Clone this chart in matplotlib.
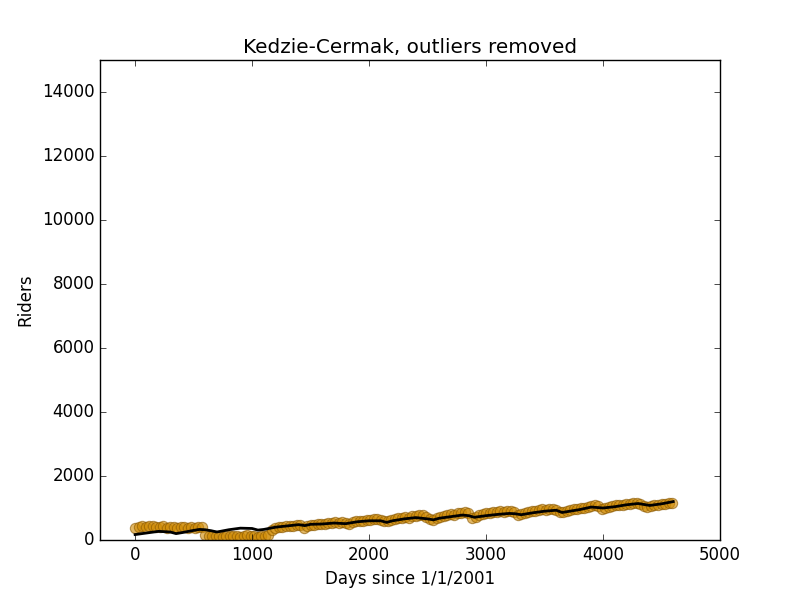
import matplotlib
matplotlib.use("Agg")
import matplotlib.pyplot as plt

plt.style.use("classic")

riders = [
    # days 0..570
    360, 410, 430, 420, 440, 425, 400, 415, 430, 380, 410, 395, 370, 400, 420, 390, 410, 385, 400, 410,
    # days 600..1140
    160, 140, 120, 110, 130, 100, 120, 140, 110, 125, 105, 130, 150, 115, 120, 100, 135, 140, 160,
    # days 1170..4590
    300, 380, 400, 420, 430, 450, 440, 460, 470, 380,
    450, 470, 480, 500, 490, 510, 520, 530, 550, 520,
    560, 540, 500, 560, 580, 600, 590, 620, 640, 660,
    650, 620, 600, 580, 620, 660, 690, 700, 720, 690,
    740, 760, 780, 770, 720, 650, 640, 690, 720, 760,
    780, 800, 790, 830, 850, 870, 840, 700, 720, 790,
    810, 830, 850, 860, 880, 900, 880, 910, 920, 890,
    780, 820, 850, 880, 900, 920, 940, 960, 950, 970,
    960, 940, 860, 880, 900, 940, 960, 970, 990, 1000,
    1030, 1060, 1080, 1050, 980, 1000, 1040, 1060, 1080, 1090,
    1100, 1110, 1140, 1150, 1160, 1130, 1050, 1020, 1060, 1080,
    1090, 1110, 1130, 1150, 1170,
]
days = list(range(0, 30 * len(riders), 30))

# Smoothed trend line
trend_days = [0, 100, 200, 300, 350, 400, 500, 550, 600, 650, 700, 800, 900, 1000,
              1050, 1100, 1200, 1300, 1400, 1450, 1500, 1600, 1700, 1800, 1850, 1900,
              2000, 2100, 2150, 2200, 2300, 2400, 2500, 2550, 2600, 2700, 2800, 2850,
              2900, 3000, 3100, 3200, 3250, 3300, 3400, 3500, 3600, 3650, 3700, 3800,
              3900, 4000, 4100, 4200, 4300, 4350, 4400, 4500, 4600]
trend_vals = [170, 220, 270, 250, 200, 230, 300, 330, 320, 290, 250, 320, 370, 360,
              310, 330, 400, 440, 480, 450, 490, 500, 530, 510, 540, 570,
              600, 600, 550, 600, 660, 700, 660, 630, 680, 730, 780, 760,
              710, 760, 800, 830, 820, 790, 850, 900, 930, 860, 890, 950,
              1030, 1000, 1040, 1100, 1140, 1110, 1080, 1130, 1200]

fig = plt.figure(figsize=(8, 6), dpi=100)
ax = fig.add_axes([0.125, 0.1, 0.775, 0.8])
ax.scatter(days, riders, s=55, color="#d08a00", alpha=0.6, edgecolors="#8a5800", linewidths=0.8)
ax.plot(trend_days, trend_vals, color="black", linewidth=2)

ax.set_xlim(-300, 5000)
ax.set_ylim(0, 15000)
ax.set_xticks([0, 1000, 2000, 3000, 4000, 5000])
ax.set_yticks([0, 2000, 4000, 6000, 8000, 10000, 12000, 14000])
ax.set_xlabel("Days since 1/1/2001")
ax.set_ylabel("Riders")
ax.set_title("Kedzie-Cermak, outliers removed")

fig.savefig("out.png", dpi=100, facecolor="white")
